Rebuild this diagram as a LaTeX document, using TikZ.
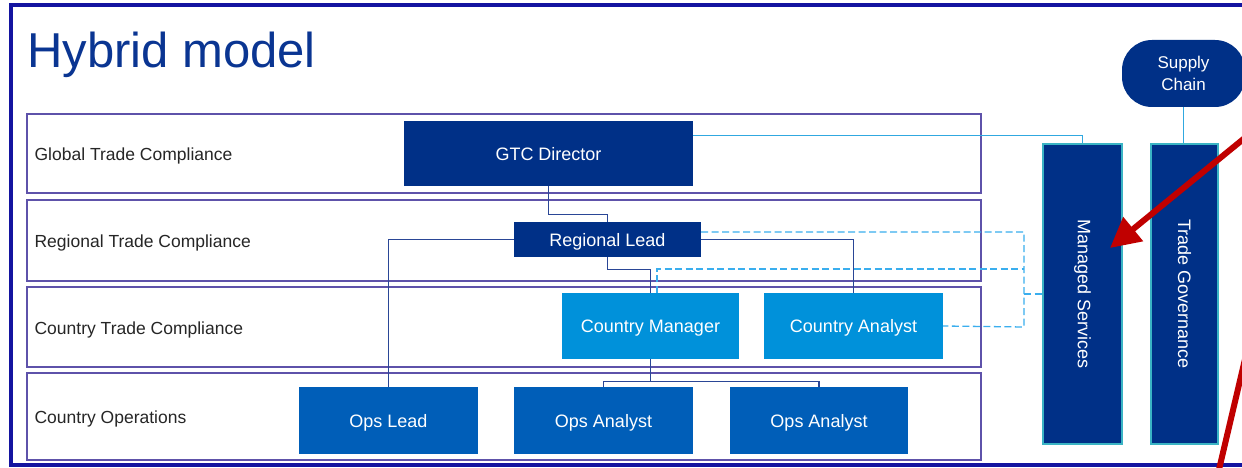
\documentclass[tikz,border=0pt]{standalone}
\usepackage{fontspec}
\setmainfont{Liberation Sans}
\usetikzlibrary{arrows.meta}
\definecolor{navy}{HTML}{003087}
\definecolor{lightb}{HTML}{0091DA}
\definecolor{opsb}{HTML}{005EB8}
\definecolor{frame}{HTML}{1414A0}
\definecolor{lanec}{HTML}{5E52AA}
\definecolor{titlec}{HTML}{0A3592}
\definecolor{dkline}{HTML}{2A4696}
\definecolor{ltline}{HTML}{30A8E0}
\definecolor{dashc}{HTML}{3AAEEE}
\definecolor{tealb}{HTML}{3AB4C4}
\definecolor{redc}{HTML}{C00000}
\tikzset{
  lane/.style={draw=lanec, line width=1.2pt, minimum width=954pt, inner sep=0pt},
  lanetext/.style={anchor=base west, font=\fontsize{17.5}{20}\selectfont, text=black!85, inner sep=0pt},
  boxtext/.style={text=white, font=\fontsize{18}{21}\selectfont, inner sep=0pt},
  flattext/.style={boxtext, text depth=0pt},
  navybox/.style={flattext, fill=navy},
  lightbox/.style={flattext, fill=lightb, minimum width=177pt, minimum height=66pt},
  opsbox/.style={flattext, fill=opsb, minimum width=179pt, minimum height=67pt},
  sidebox/.style={boxtext, fill=navy, draw=tealb, line width=1.3pt, minimum height=300pt},
  dkconn/.style={draw=dkline, line width=1.3pt},
  ltconn/.style={draw=ltline, line width=1.3pt},
  dashconn/.style={draw=dashc, line width=1.3pt, dash pattern=on 7pt off 3.5pt},
  redarrow/.style={draw=redc, line width=6pt}
}
\begin{document}
\begin{tikzpicture}[x=1pt, y=-1pt]
\useasboundingbox (0,0) rectangle (1242,468);
\clip (0,0) rectangle (1242,468);
\fill[white] (0,0) rectangle (1242,468);
% outer frame
\draw[frame, line width=4.5pt] (11,5) rectangle (1260,465);
% title
\node[anchor=base west, inner sep=0pt, text=titlec, font=\fontsize{49}{56}\selectfont] (title) at (27,68) {Hybrid model};
% lanes
\node[lane, minimum height=79pt] (l1) at (504,153.5) {};
\node[lane, minimum height=81pt] (l2) at (504,240.5) {};
\node[lane, minimum height=80pt] (l3) at (504,327) {};
\node[lane, minimum height=87pt] (l4) at (504,416.5) {};
\node[lanetext] (t1) at ([xshift=8pt,yshift=-7pt]l1.west) {Global Trade Compliance};
\node[lanetext] (t2) at ([xshift=8pt,yshift=-7pt]l2.west) {Regional Trade Compliance};
\node[lanetext] (t3) at ([xshift=8pt,yshift=-7pt]l3.west) {Country Trade Compliance};
\node[lanetext] (t4) at ([xshift=8pt,yshift=-7pt]l4.west) {Country Operations};
% boxes
\node[navybox, minimum width=289pt, minimum height=65pt] (gtc) at (548.5,153.5) {GTC Director};
\node[navybox, minimum width=187pt, minimum height=35pt] (reg) at (607.5,239.5) {Regional Lead};
\node[lightbox] (cm) at (650.5,326) {Country Manager};
\node[lightbox, minimum width=179pt] (ca) at (853.5,326) {Country Analyst};
\node[opsbox] (opl) at (388.5,420.5) {Ops Lead};
\node[opsbox] (opa1) at (603.5,420.5) {Ops Analyst};
\node[opsbox, minimum width=178pt] (opa2) at (819,420.5) {Ops Analyst};
\node[sidebox, minimum width=79pt] (ms) at (1082.5,294) {};
\node[boxtext, rotate=-90] (mst) at (ms.center) {Managed Services};
\node[sidebox, minimum width=67pt] (tg) at (1184.5,294) {};
\node[boxtext, rotate=-90] (tgt) at (tg.center) {Trade Governance};
\node[boxtext, fill=navy, rounded corners=30pt, minimum width=123pt, minimum height=67pt, align=center, font=\fontsize{17}{22}\selectfont] (sc) at (1183.5,73.5) {Supply\\Chain};
% solid connectors
\draw[dkconn] (gtc.south) -- ++(0,28) -| (reg.north);
\draw[dkconn] (reg.south) -- ++(0,12) -| (cm.north);
\draw[dkconn] (reg.east) -| (ca.north);
\draw[dkconn] (reg.west) -| (opl.north);
\draw[dkconn] (cm.south) -- ++(0,22) coordinate (j);
\draw[dkconn] (opa1.north) |- (j) -| (opa2.north);
\draw[ltconn] ([yshift=-15pt]gtc.north east) -| (ms.north);
\draw[ltconn] (sc.south) -- (sc.south |- tg.north);
% dashed connectors
\coordinate (dtop) at (1024,232);
\coordinate (dmid) at (1024,269);
\coordinate (dms) at (1024,294);
\coordinate (dbot) at (1024,327);
\draw[dashconn] ([yshift=7.5pt]reg.east) -- (dtop) -- (dbot) -- (ca.east);
\draw[dashconn] ([xshift=6.5pt]cm.north) |- (dmid);
\draw[dashconn] (dms) -- (ms.west);
% red arrows
\coordinate (r1s) at (1252,132);
\coordinate (r1e) at (1110,248);
\draw[redarrow, -{Triangle[length=30pt,width=30pt]}] (r1s) -- (r1e);
\coordinate (r2s) at (1246,355);
\coordinate (r2e) at (1217,478);
\draw[redarrow] (r2s) -- (r2e);
\end{tikzpicture}
\end{document}
